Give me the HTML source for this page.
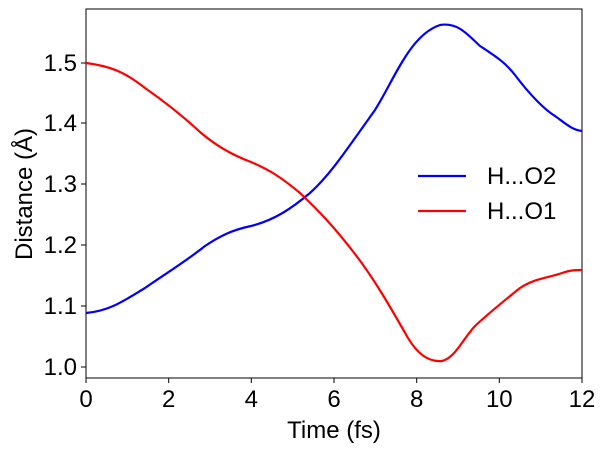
<!DOCTYPE html>
<html><head><meta charset="utf-8"><style>body{margin:0;background:#fff}svg{display:block}text{font-family:"Liberation Sans",Arial,sans-serif;fill:#000}</style></head>
<body>
<svg width="605" height="450" viewBox="0 0 605 450" xmlns="http://www.w3.org/2000/svg">
<rect x="86" y="9" width="496" height="369" fill="#fff" stroke="#000" stroke-width="1"/>
<g stroke="#000" stroke-width="1">
<line x1="86" y1="378" x2="86" y2="383"/><line x1="168.7" y1="378" x2="168.7" y2="383"/><line x1="251.3" y1="378" x2="251.3" y2="383"/><line x1="334" y1="378" x2="334" y2="383"/><line x1="416.7" y1="378" x2="416.7" y2="383"/><line x1="499.3" y1="378" x2="499.3" y2="383"/><line x1="582" y1="378" x2="582" y2="383"/>
<line x1="81" y1="367" x2="86" y2="367"/><line x1="81" y1="306" x2="86" y2="306"/><line x1="81" y1="245" x2="86" y2="245"/><line x1="81" y1="184" x2="86" y2="184"/><line x1="81" y1="123" x2="86" y2="123"/><line x1="81" y1="63" x2="86" y2="63"/>
</g>
<g font-size="24" text-anchor="middle">
<text x="86" y="407">0</text><text x="168.7" y="407">2</text><text x="251.3" y="407">4</text><text x="334" y="407">6</text><text x="416.7" y="407">8</text><text x="499.3" y="407">10</text><text x="582" y="407">12</text>
</g>
<g font-size="24" text-anchor="end">
<text x="77" y="375">1.0</text><text x="77" y="314">1.1</text><text x="77" y="253">1.2</text><text x="77" y="192">1.3</text><text x="77" y="131">1.4</text><text x="77" y="71">1.5</text>
</g>
<text x="334" y="438" font-size="24" text-anchor="middle">Time (fs)</text>
<text transform="translate(32,194) rotate(-90)" font-size="24" text-anchor="middle">Distance (Å)</text>
<path fill="none" stroke="#0000ff" stroke-width="2.2" d="M86,313 C110,311 125,300 145,288 C165,274 185,262 205,246 C220,236 232,230 251,226 C275,220 292,208 310,193 C330,175 345,152 375,110 C395,78 410,35 440,25 C458,22 468,35 480,46 C495,56 505,62 515,75 C530,95 545,110 555,116 C565,123 572,130 582,131"/>
<path fill="none" stroke="#ff0000" stroke-width="2.2" d="M86,63 C110,66 125,72 145,88 C165,102 185,118 200,132 C215,145 232,155 251,162 C270,170 282,178 300,193 C320,212 335,228 355,254 C375,280 392,310 408,338 C420,358 432,362 442,361 C455,358 462,340 475,326 C490,312 505,300 520,288 C535,278 548,278 562,273 C570,270 576,270 582,270"/>
<line x1="418" y1="176" x2="466" y2="176" stroke="#0000ff" stroke-width="2.2"/>
<line x1="418" y1="211" x2="466" y2="211" stroke="#ff0000" stroke-width="2.2"/>
<text x="487" y="184" font-size="24">H...O2</text>
<text x="487" y="219" font-size="24">H...O1</text>
</svg>
</body></html>
